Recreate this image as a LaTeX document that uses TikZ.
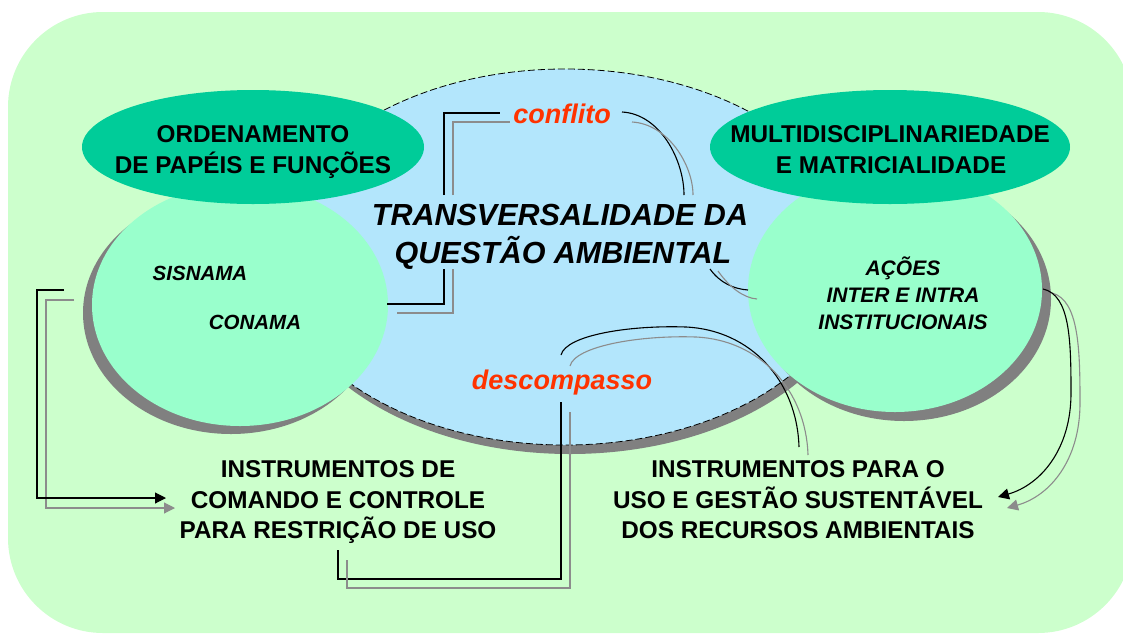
\documentclass[tikz,border=0pt]{standalone}
\usepackage{fontspec}
\setmainfont{Liberation Sans}
\usetikzlibrary{shapes.geometric,arrows.meta}
\definecolor{bgg}{HTML}{CCFFCC}
\definecolor{lblue}{HTML}{B3E6FC}
\definecolor{mint}{HTML}{99FFCC}
\definecolor{topgreen}{HTML}{00CC99}
\definecolor{shade}{HTML}{808080}
\definecolor{redtxt}{HTML}{FF3300}
\definecolor{conngray}{HTML}{8C8C8C}
\begin{document}
\begin{tikzpicture}[x=1pt,y=-1pt,
  blob/.style={ellipse, inner sep=0pt, outer sep=0pt},
  captxt/.style={anchor=base, inner sep=0pt, font=\fontsize{24.3}{30}\selectfont\bfseries},
  ttltxt/.style={anchor=base, inner sep=0pt, font=\fontsize{30.5}{38}\selectfont\bfseries\itshape},
  smltxt/.style={anchor=base, inner sep=0pt, font=\fontsize{21}{27}\selectfont\bfseries\itshape},
  redlabel/.style={anchor=base, inner sep=0pt, text=redtxt, font=\fontsize{27}{30}\selectfont\bfseries\itshape},
  blkline/.style={draw=black, line width=1.1pt},
  gryline/.style={draw=conngray, line width=1.1pt},
  arrowtip/.style={-{Triangle[length=11pt,width=11pt]}}
]
\useasboundingbox (0,0) rectangle (1123,635);
\fill[bgg, rounded corners=95pt] (8,12) rectangle (1133,633);

% central ellipse
\node[blob, fill=shade, minimum width=580, minimum height=376] (transshadow) at (570,266) {};
\node[blob, fill=lblue, draw=black, line width=0.8pt, dash pattern=on 7pt off 3pt,
      minimum width=580, minimum height=376] (trans) at (565,257) {};

% side circles
\node[blob, fill=shade, minimum width=296, minimum height=242] (leftshadow) at (231,313) {};
\node[blob, fill=mint, minimum width=296, minimum height=242] (leftc) at (240,305) {};
\node[blob, fill=shade, minimum width=294, minimum height=244] (rightshadow) at (904,299) {};
\node[blob, fill=mint, minimum width=294, minimum height=244] (rightc) at (895,290) {};

% top ellipses
\node[blob, fill=topgreen, minimum width=342, minimum height=114] (ord) at (253,147) {};
\node[blob, fill=topgreen, minimum width=360, minimum height=114] (multi) at (890,147) {};

% texts
\node[captxt] (ord1) at (253,142) {ORDENAMENTO};
\node[captxt] (ord2) at (253,173) {DE PAPÉIS E FUNÇÕES};
\node[captxt] (mul1) at (890,142) {MULTIDISCIPLINARIEDADE};
\node[captxt] (mul2) at (891,173) {E MATRICIALIDADE};
\node[ttltxt] (t1) at (560,225) {TRANSVERSALIDADE DA};
\node[ttltxt] (t2) at (563,263) {QUESTÃO AMBIENTAL};
\node[redlabel] (conf) at (562,123) {conflito};
\node[redlabel] (desc) at (562,389) {descompasso};
\node[smltxt, font=\fontsize{20.5}{27}\selectfont\bfseries\itshape] (sis) at (200,280) {SISNAMA};
\node[smltxt, font=\fontsize{20.5}{27}\selectfont\bfseries\itshape] (con) at (255,329) {CONAMA};
\node[smltxt] (ac1) at (903,275) {AÇÕES};
\node[smltxt] (ac2) at (903,302) {INTER E INTRA};
\node[smltxt] (ac3) at (903,329) {INSTITUCIONAIS};
\node[captxt] (il1) at (338,477) {INSTRUMENTOS DE};
\node[captxt] (il2) at (338,508) {COMANDO E CONTROLE};
\node[captxt] (il3) at (338,538) {PARA RESTRIÇÃO DE USO};
\node[captxt] (ir1) at (798,477) {INSTRUMENTOS PARA O};
\node[captxt] (ir2) at (798,508) {USO E GESTÃO SUSTENTÁVEL};
\node[captxt] (ir3) at (798,538) {DOS RECURSOS AMBIENTAIS};

% connector coordinates
\coordinate (a1) at (387,304); \coordinate (a2) at (444,304); \coordinate (a3) at (444,269);
\coordinate (a4) at (444,195); \coordinate (a5) at (444,113); \coordinate (a6) at (500,113);
\coordinate (g1) at (397,313); \coordinate (g2) at (453,313); \coordinate (g3) at (453,269);
\coordinate (g4) at (453,195); \coordinate (g5) at (453,122); \coordinate (g6) at (510,122);

% conflito link (left)
\draw[blkline] (a1) -- (a2) -- (a3);
\draw[blkline] (a4) -- (a5) -- (a6);
\draw[gryline] (g1) -- (g2) -- (g3);
\draw[gryline] (g4) -- (g5) -- (g6);

% conflito link (right)
\coordinate (b1) at (622,112); \coordinate (b2) at (684,195);
\coordinate (b3) at (710,269); \coordinate (b4) at (748,290);
\coordinate (h1) at (632,122); \coordinate (h2) at (693,195);
\coordinate (h3) at (718,271); \coordinate (h4) at (757,299);
\draw[blkline] (b1) .. controls (660,114) and (684,160) .. (b2);
\draw[blkline] (b3) .. controls (720,283) and (734,289) .. (b4);
\draw[gryline] (h1) .. controls (668,124) and (693,165) .. (h2);
\draw[gryline] (h3) .. controls (730,288) and (744,298) .. (h4);

% descompasso link
\coordinate (d1) at (338,550); \coordinate (d2) at (338,579); \coordinate (d3) at (561,579);
\coordinate (d4) at (561,402); \coordinate (d5) at (561,355); \coordinate (d6) at (799,447);
\coordinate (e1) at (347,560); \coordinate (e2) at (347,588); \coordinate (e3) at (570,588);
\coordinate (e4) at (570,412); \coordinate (e5) at (570,366); \coordinate (e6) at (808,455);
\draw[blkline] (d1) -- (d2) -- (d3) -- (d4);
\draw[blkline] (d5) .. controls (566,335) and (630,325) .. (686,327) .. controls (750,330) and (797,380) .. (d6);
\draw[gryline] (e1) -- (e2) -- (e3) -- (e4);
\draw[gryline] (e5) .. controls (575,346) and (640,335) .. (696,337) .. controls (760,340) and (806,390) .. (e6);

% left arrow
\coordinate (l1) at (64,290); \coordinate (l2) at (37,290); \coordinate (l3) at (37,498); \coordinate (l4) at (166,498);
\coordinate (m1) at (74,300); \coordinate (m2) at (46,300); \coordinate (m3) at (46,508); \coordinate (m4) at (175,508);
\draw[gryline, arrowtip] (m1) -- (m2) -- (m3) -- (m4);
\draw[blkline, arrowtip] (l1) -- (l2) -- (l3) -- (l4);

% right arrow
\coordinate (r1) at (1043,289); \coordinate (r2) at (998,497);
\coordinate (s1) at (1052,293); \coordinate (s2) at (1007,508);
\draw[gryline, arrowtip] (s1) .. controls (1079,300) and (1080,350) .. (1080,403) .. controls (1080,460) and (1050,496) .. (s2);
\draw[blkline, arrowtip] (r1) .. controls (1070,295) and (1071,340) .. (1071,393) .. controls (1071,450) and (1040,485) .. (r2);
\end{tikzpicture}
\end{document}
